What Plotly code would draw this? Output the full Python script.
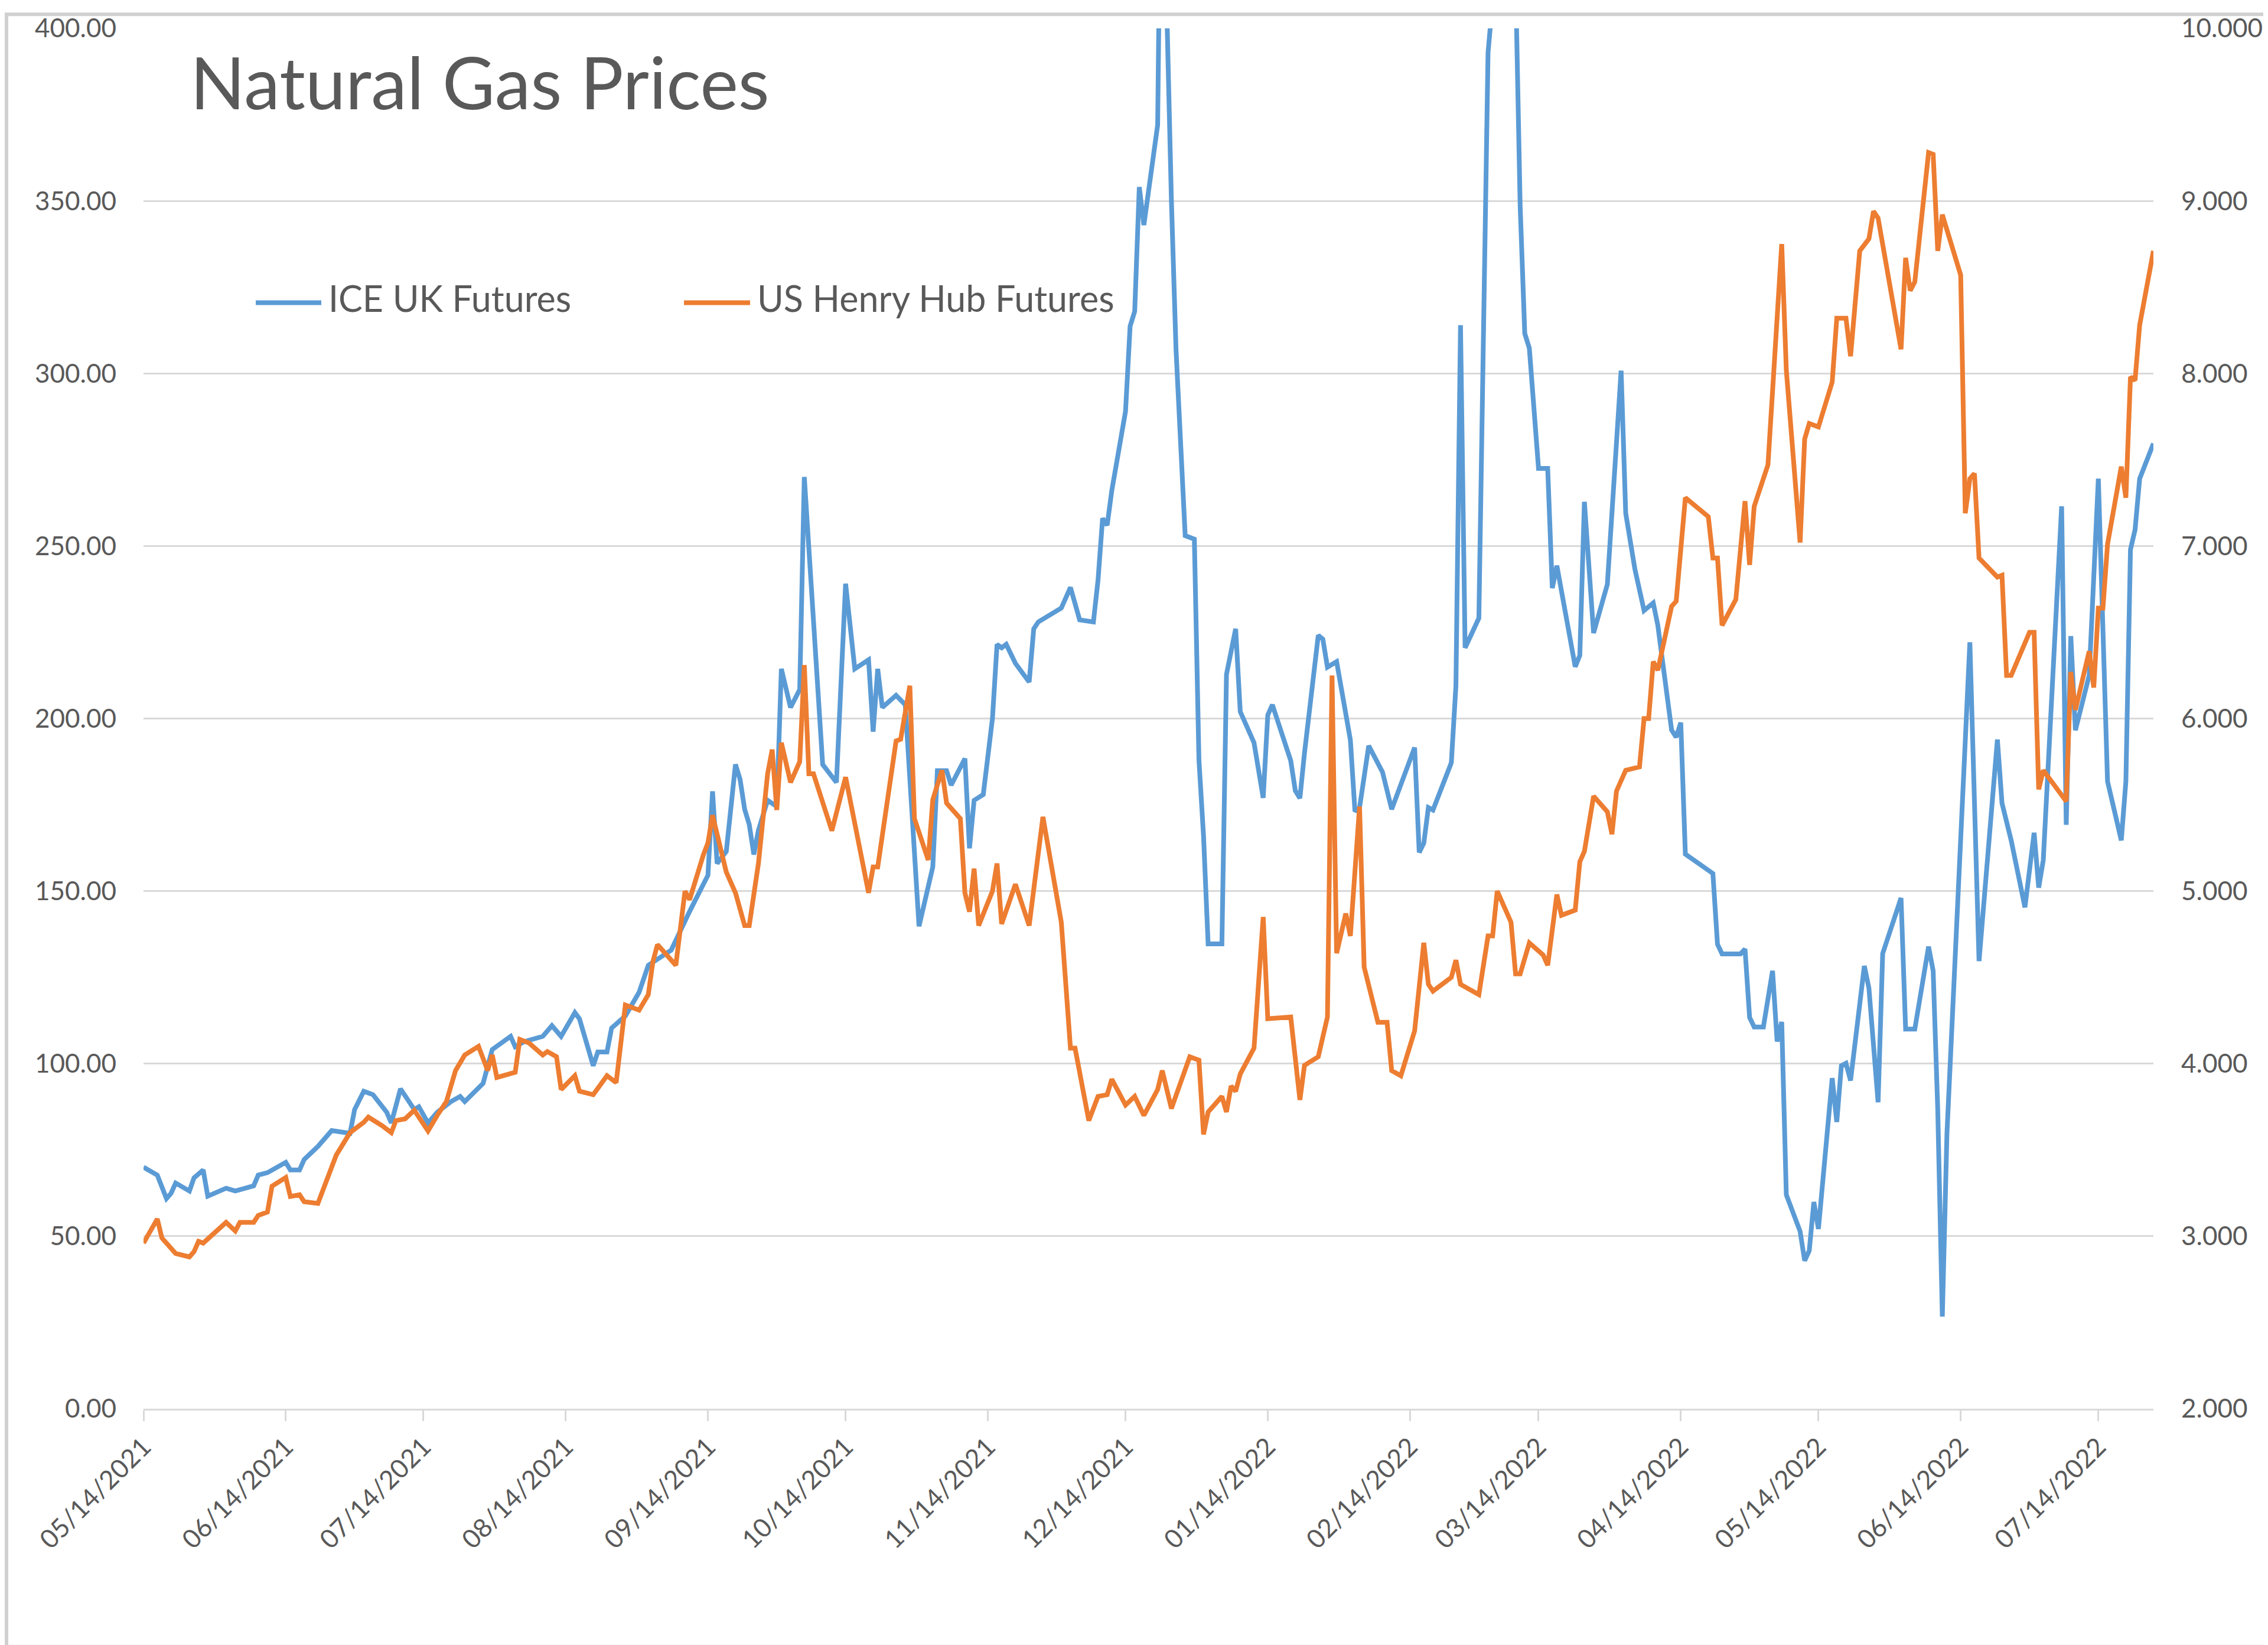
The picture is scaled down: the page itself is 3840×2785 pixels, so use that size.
import plotly.graph_objects as go

# ---------------- data ----------------
ice_dates = [
    "2021-05-14", "2021-05-17", "2021-05-19", "2021-05-20", "2021-05-21", "2021-05-24", "2021-05-25",
    "2021-05-27", "2021-05-28", "2021-06-01", "2021-06-03", "2021-06-07", "2021-06-08", "2021-06-10",
    "2021-06-14", "2021-06-15", "2021-06-17", "2021-06-18", "2021-06-21", "2021-06-24", "2021-06-28",
    "2021-06-29", "2021-07-01", "2021-07-03", "2021-07-06", "2021-07-07", "2021-07-09", "2021-07-12",
    "2021-07-13", "2021-07-15", "2021-07-17", "2021-07-20", "2021-07-22", "2021-07-23", "2021-07-27",
    "2021-07-29", "2021-08-02", "2021-08-03", "2021-08-05", "2021-08-09", "2021-08-11", "2021-08-13",
    "2021-08-16", "2021-08-17", "2021-08-20", "2021-08-21", "2021-08-23", "2021-08-24", "2021-08-27",
    "2021-08-30", "2021-09-01", "2021-09-03", "2021-09-06", "2021-09-10", "2021-09-14", "2021-09-15",
    "2021-09-16", "2021-09-18", "2021-09-20", "2021-09-21", "2021-09-22", "2021-09-23", "2021-09-24",
    "2021-09-25", "2021-09-27", "2021-09-29", "2021-09-30", "2021-10-02", "2021-10-04", "2021-10-05",
    "2021-10-06", "2021-10-09", "2021-10-12", "2021-10-13", "2021-10-14", "2021-10-16", "2021-10-19",
    "2021-10-20", "2021-10-21", "2021-10-22", "2021-10-25", "2021-10-27", "2021-10-30", "2021-11-02",
    "2021-11-03", "2021-11-05", "2021-11-06", "2021-11-09", "2021-11-10", "2021-11-11", "2021-11-13",
    "2021-11-15", "2021-11-16", "2021-11-17", "2021-11-18", "2021-11-20", "2021-11-23", "2021-11-24",
    "2021-11-25", "2021-11-30", "2021-12-02", "2021-12-04", "2021-12-07", "2021-12-08", "2021-12-09",
    "2021-12-10", "2021-12-11", "2021-12-14", "2021-12-15", "2021-12-16", "2021-12-17", "2021-12-18",
    "2021-12-21", "2021-12-22", "2021-12-23", "2021-12-24", "2021-12-25", "2021-12-27", "2021-12-29",
    "2021-12-30", "2021-12-31", "2022-01-01", "2022-01-04", "2022-01-05", "2022-01-07", "2022-01-08",
    "2022-01-11", "2022-01-13", "2022-01-14", "2022-01-15", "2022-01-19", "2022-01-20", "2022-01-21",
    "2022-01-22", "2022-01-25", "2022-01-26", "2022-01-27", "2022-01-29", "2022-02-01", "2022-02-02",
    "2022-02-03", "2022-02-05", "2022-02-08", "2022-02-10", "2022-02-15", "2022-02-16", "2022-02-17",
    "2022-02-18", "2022-02-19", "2022-02-23", "2022-02-24", "2022-02-25", "2022-02-26", "2022-03-01",
    "2022-03-03", "2022-03-04", "2022-03-07", "2022-03-08", "2022-03-10", "2022-03-11", "2022-03-12",
    "2022-03-14", "2022-03-16", "2022-03-17", "2022-03-18", "2022-03-22", "2022-03-23", "2022-03-24",
    "2022-03-26", "2022-03-29", "2022-04-01", "2022-04-02", "2022-04-04", "2022-04-06", "2022-04-08",
    "2022-04-09", "2022-04-12", "2022-04-13", "2022-04-14", "2022-04-15", "2022-04-21", "2022-04-22",
    "2022-04-23", "2022-04-27", "2022-04-28", "2022-04-29", "2022-04-30", "2022-05-02", "2022-05-04",
    "2022-05-05", "2022-05-06", "2022-05-07", "2022-05-10", "2022-05-11", "2022-05-12", "2022-05-13",
    "2022-05-14", "2022-05-17", "2022-05-18", "2022-05-19", "2022-05-20", "2022-05-21", "2022-05-24",
    "2022-05-25", "2022-05-27", "2022-05-28", "2022-06-01", "2022-06-02", "2022-06-04", "2022-06-07",
    "2022-06-08", "2022-06-09", "2022-06-10", "2022-06-11", "2022-06-14", "2022-06-16", "2022-06-18",
    "2022-06-22", "2022-06-23", "2022-06-25", "2022-06-28", "2022-06-30", "2022-07-01", "2022-07-02",
    "2022-07-06", "2022-07-07", "2022-07-08", "2022-07-09", "2022-07-12", "2022-07-14", "2022-07-16",
    "2022-07-19", "2022-07-20", "2022-07-21", "2022-07-22", "2022-07-23", "2022-07-26",
]
ice_values = [
    70.0, 67.7, 60.9, 62.4, 65.4, 63.1, 66.9,
    69.2, 61.6, 63.9, 63.1, 64.6, 67.7, 68.4,
    71.4, 69.2, 69.2, 72.2, 76.0, 80.6, 79.8,
    86.7, 92.0, 91.0, 85.9, 82.8, 92.7, 86.7,
    87.5, 82.8, 85.9, 89.0, 90.5, 89.0, 94.3,
    104.1, 107.9, 104.9, 106.4, 107.9, 111.0, 107.9,
    114.8, 113.0, 99.4, 103.4, 103.4, 110.3, 113.8,
    120.7, 128.5, 130.3, 132.9, 144.1, 154.6, 178.9,
    158.0, 161.5, 186.7, 182.4, 173.7, 169.3, 160.6,
    167.6, 176.3, 174.5, 214.4, 203.2, 208.4, 270.0,
    250.0, 186.7, 181.5, 211.9, 239.1, 214.4, 217.0,
    196.2, 214.4, 203.2, 206.7, 204.0, 139.8, 157.0,
    184.9, 184.9, 180.7, 188.4, 162.4, 176.3, 178.0,
    200.0, 221.5, 220.5, 221.5, 216.0, 210.6, 226.0,
    228.0, 232.0, 238.0, 228.6, 228.0, 240.0, 258.0,
    256.0, 266.0, 289.0, 313.7, 318.0, 354.0, 343.0,
    372.0, 490.0, 405.0, 350.0, 307.0, 253.0, 252.0,
    188.0, 166.0, 134.7, 134.7, 212.8, 226.0, 202.0,
    193.0, 177.0, 201.0, 204.0, 187.8, 179.1, 176.9,
    190.0, 224.1, 223.0, 214.9, 216.5, 193.8, 173.1,
    174.2, 192.1, 184.5, 173.7, 191.6, 161.2, 163.9,
    174.2, 173.5, 187.2, 209.5, 314.0, 220.5, 229.1,
    393.0, 408.0, 540.0, 480.0, 348.5, 311.6, 307.3,
    272.5, 272.5, 237.8, 244.3, 215.0, 218.3, 262.8,
    224.8, 238.9, 300.8, 259.5, 243.3, 231.3, 233.5,
    227.0, 196.7, 194.6, 198.8, 160.7, 155.1, 134.6,
    131.8, 131.8, 133.2, 113.4, 110.6, 110.6, 126.9,
    106.4, 112.1, 62.0, 51.4, 42.9, 45.8, 59.9,
    52.1, 95.8, 83.1, 99.4, 100.1, 95.1, 128.3,
    121.9, 88.8, 131.9, 148.0, 110.0, 110.0, 133.9,
    126.9, 86.7, 26.7, 79.6, 164.3, 222.1, 129.7,
    193.9, 175.5, 164.7, 145.3, 166.9, 151.0, 159.0,
    261.5, 169.2, 223.9, 196.6, 212.5, 269.5, 181.8,
    164.7, 181.8, 249.0, 254.7, 269.5, 279.7,
]

hh_dates = [
    "2021-05-14", "2021-05-17", "2021-05-18", "2021-05-21", "2021-05-24", "2021-05-25", "2021-05-26",
    "2021-05-27", "2021-06-01", "2021-06-03", "2021-06-04", "2021-06-07", "2021-06-08", "2021-06-10",
    "2021-06-11", "2021-06-14", "2021-06-15", "2021-06-17", "2021-06-18", "2021-06-21", "2021-06-25",
    "2021-06-28", "2021-07-01", "2021-07-02", "2021-07-05", "2021-07-07", "2021-07-08", "2021-07-10",
    "2021-07-12", "2021-07-15", "2021-07-17", "2021-07-19", "2021-07-21", "2021-07-23", "2021-07-26",
    "2021-07-28", "2021-07-29", "2021-07-30", "2021-08-03", "2021-08-04", "2021-08-06", "2021-08-09",
    "2021-08-10", "2021-08-12", "2021-08-13", "2021-08-16", "2021-08-17", "2021-08-20", "2021-08-23",
    "2021-08-25", "2021-08-27", "2021-08-30", "2021-09-01", "2021-09-02", "2021-09-03", "2021-09-07",
    "2021-09-09", "2021-09-10", "2021-09-13", "2021-09-14", "2021-09-15", "2021-09-18", "2021-09-20",
    "2021-09-22", "2021-09-23", "2021-09-25", "2021-09-27", "2021-09-28", "2021-09-29", "2021-09-30",
    "2021-10-02", "2021-10-04", "2021-10-05", "2021-10-06", "2021-10-07", "2021-10-11", "2021-10-14",
    "2021-10-16", "2021-10-19", "2021-10-20", "2021-10-21", "2021-10-25", "2021-10-26", "2021-10-28",
    "2021-10-29", "2021-11-01", "2021-11-02", "2021-11-04", "2021-11-05", "2021-11-08", "2021-11-09",
    "2021-11-10", "2021-11-11", "2021-11-12", "2021-11-15", "2021-11-16", "2021-11-17", "2021-11-20",
    "2021-11-23", "2021-11-26", "2021-11-30", "2021-12-02", "2021-12-03", "2021-12-06", "2021-12-08",
    "2021-12-10", "2021-12-11", "2021-12-14", "2021-12-16", "2021-12-18", "2021-12-21", "2021-12-22",
    "2021-12-24", "2021-12-28", "2021-12-30", "2021-12-31", "2022-01-01", "2022-01-04", "2022-01-05",
    "2022-01-06", "2022-01-07", "2022-01-08", "2022-01-11", "2022-01-13", "2022-01-14", "2022-01-19",
    "2022-01-21", "2022-01-22", "2022-01-25", "2022-01-27", "2022-01-28", "2022-01-29", "2022-01-31",
    "2022-02-01", "2022-02-03", "2022-02-04", "2022-02-07", "2022-02-09", "2022-02-10", "2022-02-12",
    "2022-02-15", "2022-02-17", "2022-02-18", "2022-02-19", "2022-02-23", "2022-02-24", "2022-02-25",
    "2022-03-01", "2022-03-03", "2022-03-04", "2022-03-05", "2022-03-08", "2022-03-09", "2022-03-10",
    "2022-03-12", "2022-03-15", "2022-03-16", "2022-03-18", "2022-03-19", "2022-03-22", "2022-03-23",
    "2022-03-24", "2022-03-26", "2022-03-29", "2022-03-30", "2022-03-31", "2022-04-02", "2022-04-05",
    "2022-04-06", "2022-04-07", "2022-04-08", "2022-04-09", "2022-04-12", "2022-04-13", "2022-04-15",
    "2022-04-20", "2022-04-21", "2022-04-22", "2022-04-23", "2022-04-26", "2022-04-28", "2022-04-29",
    "2022-04-30", "2022-05-03", "2022-05-06", "2022-05-07", "2022-05-10", "2022-05-11", "2022-05-12",
    "2022-05-14", "2022-05-17", "2022-05-18", "2022-05-20", "2022-05-21", "2022-05-23", "2022-05-25",
    "2022-05-26", "2022-05-27", "2022-06-01", "2022-06-02", "2022-06-03", "2022-06-04", "2022-06-07",
    "2022-06-08", "2022-06-09", "2022-06-10", "2022-06-14", "2022-06-15", "2022-06-16", "2022-06-17",
    "2022-06-18", "2022-06-22", "2022-06-23", "2022-06-24", "2022-06-25", "2022-06-29", "2022-06-30",
    "2022-07-01", "2022-07-02", "2022-07-07", "2022-07-08", "2022-07-09", "2022-07-12", "2022-07-13",
    "2022-07-14", "2022-07-15", "2022-07-16", "2022-07-19", "2022-07-20", "2022-07-21", "2022-07-22",
    "2022-07-23", "2022-07-26",
]
hh_values = [
    2.96, 3.10, 2.99, 2.90, 2.88, 2.91, 2.97,
    2.96, 3.08, 3.03, 3.08, 3.08, 3.12, 3.14,
    3.29, 3.34, 3.23, 3.24, 3.20, 3.19, 3.47,
    3.60, 3.66, 3.69, 3.64, 3.60, 3.67, 3.68,
    3.73, 3.61, 3.70, 3.78, 3.96, 4.05, 4.10,
    3.96, 4.05, 3.92, 3.95, 4.14, 4.12, 4.05,
    4.07, 4.04, 3.85, 3.93, 3.84, 3.82, 3.93,
    3.89, 4.34, 4.31, 4.40, 4.59, 4.69, 4.57,
    5.00, 4.95, 5.21, 5.28, 5.44, 5.11, 4.99,
    4.80, 4.80, 5.16, 5.68, 5.82, 5.47, 5.86,
    5.63, 5.75, 6.31, 5.68, 5.68, 5.35, 5.66,
    5.39, 4.99, 5.14, 5.14, 5.87, 5.88, 6.19,
    5.42, 5.18, 5.53, 5.70, 5.51, 5.42, 4.99,
    4.88, 5.13, 4.80, 5.00, 5.16, 4.81, 5.04,
    4.80, 5.43, 4.82, 4.09, 4.09, 3.67, 3.81,
    3.82, 3.91, 3.76, 3.81, 3.70, 3.85, 3.96,
    3.74, 4.04, 4.02, 3.59, 3.72, 3.81, 3.72,
    3.87, 3.84, 3.94, 4.09, 4.85, 4.26, 4.27,
    3.79, 3.99, 4.04, 4.27, 6.25, 4.64, 4.87,
    4.74, 5.49, 4.56, 4.24, 4.24, 3.96, 3.93,
    4.19, 4.70, 4.46, 4.42, 4.50, 4.60, 4.46,
    4.40, 4.74, 4.74, 5.00, 4.82, 4.52, 4.52,
    4.70, 4.63, 4.57, 4.98, 4.86, 4.89, 5.17,
    5.23, 5.55, 5.46, 5.33, 5.58, 5.70, 5.72,
    6.00, 6.00, 6.33, 6.28, 6.65, 6.68, 7.28,
    7.17, 6.93, 6.93, 6.54, 6.69, 7.26, 6.89,
    7.23, 7.47, 8.75, 8.02, 7.02, 7.62, 7.71,
    7.69, 7.95, 8.32, 8.32, 8.10, 8.71, 8.78,
    8.94, 8.90, 8.14, 8.67, 8.48, 8.53, 9.28,
    9.27, 8.71, 8.92, 8.57, 7.19, 7.39, 7.42,
    6.93, 6.82, 6.83, 6.25, 6.25, 6.50, 6.50,
    5.59, 5.70, 5.52, 6.27, 6.05, 6.39, 6.18,
    6.64, 6.64, 7.01, 7.46, 7.28, 7.98, 7.96,
    8.28, 8.71,
]

tick_dates = [
    "2021-05-14", "2021-06-14", "2021-07-14", "2021-08-14", "2021-09-14", "2021-10-14", "2021-11-14",
    "2021-12-14", "2022-01-14", "2022-02-14", "2022-03-14", "2022-04-14", "2022-05-14", "2022-06-14",
    "2022-07-14",
]
x_range = ["2021-05-14", "2022-07-26"]
left_range = [0, 400]
right_range = [2, 10]

title_text = "Natural Gas Prices"
ice_name = "ICE UK Futures"
hh_name = "US Henry Hub Futures"

# ---------------- style ----------------
W, H = 3840, 2785
ML, MR, MT, MB = 235, 202, 27, 408
PW, PH = W - ML - MR, H - MT - MB
TXT = "#595959"
GRID = "#D9D9D9"
FONT = "Lato"
BLUE = "#5B9BD5"
ORANGE = "#ED7D31"
LW = 8


def px_x(px):
    return (px - ML) / PW


def px_y(py):
    return (H - MB - py) / PH


fig = go.Figure()
fig.add_trace(go.Scatter(
    x=ice_dates, y=ice_values, mode="lines", name=ice_name,
    line=dict(color=BLUE, width=LW), showlegend=False,
))
fig.add_trace(go.Scatter(
    x=hh_dates, y=hh_values, mode="lines", name=hh_name, yaxis="y2",
    line=dict(color=ORANGE, width=LW), showlegend=False,
))

# legend drawn as key lines + labels (Excel style long keys)
legend_y = 494
legend_items = [(ice_name, BLUE, 425, 536, 546), (hh_name, ORANGE, 1150, 1262, 1272)]
shapes = []
annotations = []
for name, color, lx0, lx1, tx in legend_items:
    shapes.append(dict(
        type="line", xref="paper", yref="paper",
        x0=px_x(lx0), x1=px_x(lx1), y0=px_y(legend_y), y1=px_y(legend_y),
        line=dict(color=color, width=LW),
    ))
    annotations.append(dict(
        text=name, xref="paper", yref="paper", x=px_x(tx), y=px_y(legend_y - 8),
        xanchor="left", yanchor="middle", showarrow=False,
        font=dict(family=FONT, size=61, color=TXT),
    ))

# outer chart-area border
shapes.append(dict(
    type="rect", xref="paper", yref="paper",
    x0=px_x(3), x1=px_x(W - 3), y0=px_y(H - 3), y1=px_y(3),
    line=dict(color="#D0D0D0", width=6), fillcolor="rgba(0,0,0,0)",
))

fig.update_layout(
    width=W, height=H,
    margin=dict(l=ML, r=MR, t=MT, b=MB, pad=0),
    paper_bgcolor="white", plot_bgcolor="white",
    font=dict(family=FONT, color=TXT, size=44),
    title=dict(
        text=title_text, font=dict(family=FONT, size=122, color=TXT),
        x=314 / W, xanchor="left", xref="container",
        y=1 - 92 / H, yanchor="top", yref="container",
    ),
    xaxis=dict(
        type="date", range=x_range,
        tickvals=tick_dates, tickformat="%m/%d/%Y", tickangle=-45,
        ticks="outside", ticklen=18, tickwidth=3, tickcolor=GRID,
        showline=True, linecolor=GRID, linewidth=3,
        showgrid=False, zeroline=False,
        tickfont=dict(family=FONT, size=44, color=TXT),
    ),
    yaxis=dict(
        range=left_range, dtick=50, tick0=0, tickformat=".2f",
        showgrid=True, gridcolor=GRID, gridwidth=3,
        zeroline=False, showline=False, ticks="",
        ticklabelstandoff=45, ticklabeloverflow="allow",
        tickfont=dict(family=FONT, size=44, color=TXT),
    ),
    yaxis2=dict(
        range=right_range, dtick=1, tick0=2, tickformat=".3f",
        overlaying="y", side="right",
        showgrid=False, zeroline=False, showline=False, ticks="",
        ticklabelstandoff=46, ticklabeloverflow="allow",
        tickfont=dict(family=FONT, size=44, color=TXT),
    ),
    showlegend=False,
    shapes=shapes,
    annotations=annotations,
)

fig.write_html("out.html")
